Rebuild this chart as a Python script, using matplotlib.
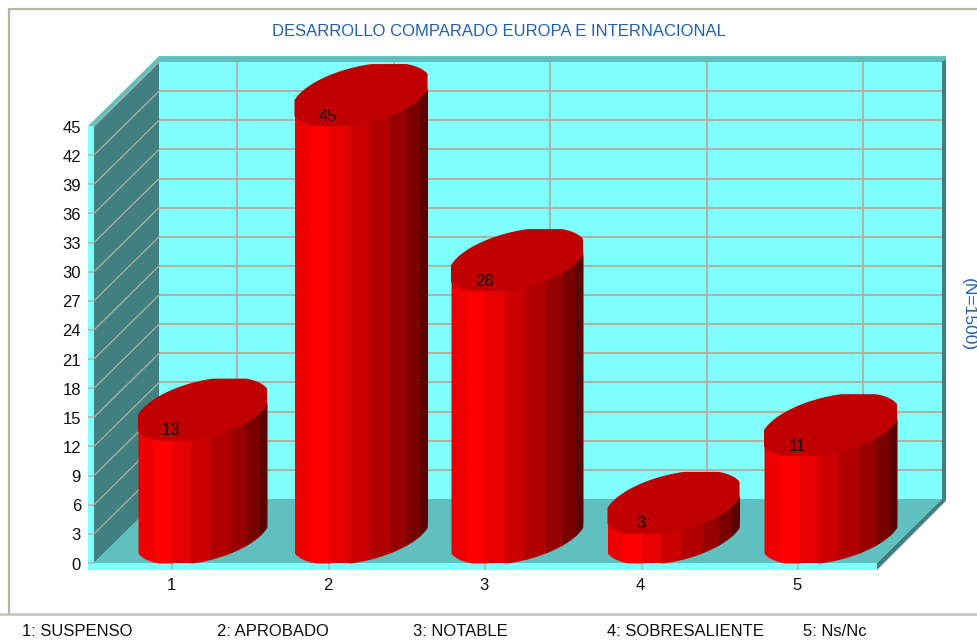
import matplotlib
matplotlib.use("Agg")
import matplotlib.pyplot as plt
import numpy as np

plt.rcParams['font.family'] = ['Liberation Sans', 'DejaVu Sans']

categories = [1, 2, 3, 4, 5]
values = [12.6, 45, 28, 3, 11]
y_ticks = list(range(0, 46, 3))
legend_labels = ["1: SUSPENSO", "2: APROBADO", "3: NOTABLE", "4: SOBRESALIENTE", "5: Ns/Nc"]
title = "DESARROLLO COMPARADO EUROPA E INTERNACIONAL"
side_note = "(N=1500)"

W, H = 978, 640
# pixel scale of the chart, category 1 sits at x=172 and value 0 at y=563
PX_X = 156.5
PX_Y = 9.71
X1 = 172
Y0 = 563


def fx(px):
    return 1 + (px - X1) / PX_X


def fy(py):
    return (Y0 - py) / PX_Y


DX = 65 / PX_X
DY = 64 / PX_Y
LEFT = fx(94)
RIGHT = fx(877)
TOP = 45
STRIP_X = 6 / PX_X
STRIP_Y = 6 / PX_Y
EDGE_X = 4 / PX_X

CYAN = "#80ffff"
WALL = "#408080"
FLOOR = "#60c0c0"
GRID = "#b2b0a4"
BLUE = "#2060b0"

# band edges as part of the bar width
band_edges = np.array([0, 15, 34, 53, 73, 94, 110, 123, 131]) / 131
band_colors = ["#ee0000", "#ff0000", "#e60000", "#cc0000", "#b00000", "#960000", "#7a0000", "#5c0000"]
TOP_COLOR = "#c00000"
BAR_LEFT = 34 / PX_X
bar_widths = [129 / PX_X, 133 / PX_X, 132 / PX_X, 132 / PX_X, 133 / PX_X]
BAR_H = 62 / PX_Y
PHI = np.radians(65)
FULL = 1.04


def cap(left, width, bottom, t):
    # slanted ellipse of the cylinder, bottom = lowest point of it
    u = np.clip(FULL * np.cos(t), -1, 1)
    w = np.clip(FULL * np.cos(t - PHI), -1, 1)
    return left + width / 2 * (1 + u), bottom + BAR_H / 2 * (1 + w)


fig = plt.figure(figsize=(W / 100, H / 100), dpi=100)
ax = fig.add_axes([0, 0, 1, 1])
ax.set_xlim(fx(0), fx(W))
ax.set_ylim(fy(H), fy(0))
ax.axis("off")

# outer frame and the line over the legend
ax.plot([fx(W), fx(9), fx(9)], [fy(9), fy(9), fy(613)], color="#b8b6a4", lw=1.6)
ax.plot([fx(0), fx(W)], [fy(614), fy(614)], color="#c4c2b6", lw=1.8)

# back wall
ax.fill([LEFT + DX, RIGHT + DX, RIGHT + DX, LEFT + DX], [DY, DY, TOP + DY, TOP + DY], color=CYAN, lw=0)
# side wall
ax.fill([LEFT, LEFT + DX, LEFT + DX, LEFT], [0, DY, TOP + DY, TOP], color=WALL, lw=0)
# floor
ax.fill([LEFT, RIGHT, RIGHT + DX, LEFT + DX], [0, 0, DY, DY], color=FLOOR, lw=0)
# edges of the box
ax.fill([LEFT - STRIP_X, LEFT, LEFT, LEFT - STRIP_X], [-7 / PX_Y, -7 / PX_Y, TOP, TOP], color=CYAN, lw=0)
ax.fill([LEFT - STRIP_X, RIGHT, RIGHT, LEFT - STRIP_X], [-7 / PX_Y, -7 / PX_Y, 0, 0], color=CYAN, lw=0)
ax.fill([LEFT - STRIP_X, LEFT + DX, RIGHT + DX + EDGE_X, RIGHT + DX + EDGE_X, LEFT + DX, LEFT],
        [TOP, TOP + DY + STRIP_Y, TOP + DY + STRIP_Y, TOP + DY, TOP + DY, TOP], color=FLOOR, lw=0)
ax.fill([RIGHT, RIGHT + DX, RIGHT + DX, RIGHT + DX + EDGE_X, RIGHT + DX + EDGE_X, RIGHT],
        [0, DY, TOP + DY, TOP + DY + STRIP_Y * 0.5, DY - STRIP_Y * 0.3, -7 / PX_Y], color=WALL, lw=0)

# grid
for v in y_ticks:
    if v > 0:
        ax.plot([LEFT, LEFT + DX], [v, v + DY], color=GRID, lw=0.9, solid_capstyle="butt")
    if 0 < v < TOP:
        ax.plot([LEFT + DX, RIGHT + DX], [v + DY, v + DY], color=GRID, lw=1.4, solid_capstyle="butt")
    if v < TOP:
        ax.plot([LEFT - STRIP_X, LEFT], [v, v], color=GRID, lw=1.1, solid_capstyle="butt")
    ax.text(fx(81), v - 2 / PX_Y, str(v), ha="right", va="center", fontsize=12, color="#101010")
for c in categories:
    ax.plot([c + DX, c + DX], [DY, TOP + DY], color=GRID, lw=1.4, solid_capstyle="butt")
    ax.plot([c, c], [-7 / PX_Y, 0], color=GRID, lw=1.1, solid_capstyle="butt")
    ax.text(c - 1 / PX_X, fy(585), str(c), ha="center", va="center", fontsize=12, color="#101010")

# cylinders
t_low = np.linspace(np.pi, 2 * np.pi, 400)
t_all = np.linspace(0, 2 * np.pi, 800)
for c, v, bw in zip(categories, values, bar_widths):
    left = c - BAR_LEFT
    xb, yb = cap(left, bw, 0, t_low)
    for i, col in enumerate(band_colors):
        # run each band a bit under the next one so no seam shows
        over = 0 if i == len(band_colors) - 1 else 1.5 / PX_X
        xs = np.linspace(left + bw * band_edges[i], left + bw * band_edges[i + 1] + over, 40)
        low = np.interp(xs, xb, yb)
        ax.fill_between(xs, low, low + v + 2 / PX_Y, color=col, lw=0, zorder=3 + i * 0.01)
    xt, yt = cap(left, bw, v, t_all)
    ax.fill(xt, yt, color=TOP_COLOR, lw=0, zorder=4)
    ax.text(c - 1 / PX_X, v + 10 / PX_Y, f"{v:.0f}", ha="center", va="center", fontsize=12, color="#101010", zorder=5)

ax.text(fx(498.5), fy(32), title, ha="center", va="center", fontsize=12, color=BLUE)
ax.text(fx(968), fy(315), side_note, ha="center", va="center", fontsize=12.5, color=BLUE, rotation=-90)

legend_x = [22, 217, 413, 607, 803]
for lx, lab in zip(legend_x, legend_labels):
    ax.text(fx(lx), fy(632), lab, ha="left", va="center", fontsize=12, color="#101010")

fig.savefig("out.png", dpi=100)
